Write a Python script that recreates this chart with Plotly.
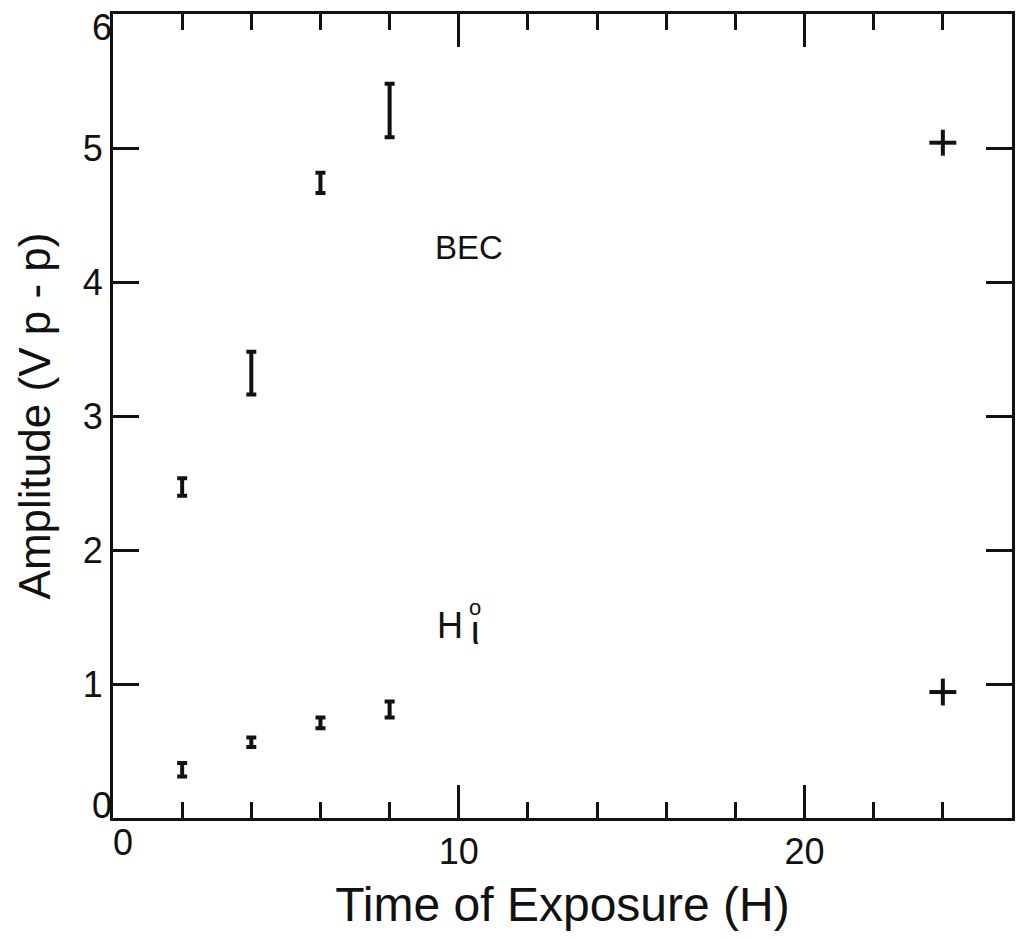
import plotly.graph_objects as go

# ---- data ----
exposure_h = [2, 4, 6, 8]                 # time of exposure (H)
bec_amp = [2.47, 3.32, 4.74, 5.28]        # BEC amplitude (V p-p)
bec_err = [0.065, 0.16, 0.075, 0.20]
hi_amp = [0.36, 0.565, 0.71, 0.81]        # Hi° amplitude (V p-p)
hi_err = [0.05, 0.035, 0.04, 0.06]

cross_time = [24, 24]                     # long exposure points (+ markers)
cross_amp = [5.04, 0.94]
cross_xerr = [0.39, 0.39]
cross_yerr = [0.097, 0.10]

x_major = [0, 10, 20]
x_major_text = ["", "10", "20"]
x_corner_label = [0]
x_minor = [2, 4, 6, 8, 12, 14, 16, 18, 22, 24]
y_ticks = [0, 1, 2, 3, 4, 5, 6]
y_ticks_text = ["", "1", "2", "3", "4", "5", ""]
y_top_label = [6]
y_bottom_label = [0]
x_range = [0, 26]
y_range = [0, 6.0005]

FONT = "Liberation Sans, Arial, sans-serif"
INK = "#111111"

fig = go.Figure()

invisible = dict(size=1, color="rgba(0,0,0,0)")

fig.add_trace(go.Scatter(
    x=exposure_h, y=bec_amp, mode="markers", marker=invisible,
    error_y=dict(type="data", array=bec_err, visible=True,
                 color=INK, thickness=4, width=5),
    showlegend=False, name="BEC", hoverinfo="skip"))

fig.add_trace(go.Scatter(
    x=exposure_h, y=hi_amp, mode="markers", marker=invisible,
    error_y=dict(type="data", array=hi_err, visible=True,
                 color=INK, thickness=4, width=5),
    showlegend=False, name="Hi", hoverinfo="skip"))

fig.add_trace(go.Scatter(
    x=cross_time, y=cross_amp, mode="markers", marker=invisible,
    error_y=dict(type="data", array=cross_yerr, visible=True,
                 color=INK, thickness=4, width=0),
    error_x=dict(type="data", array=cross_xerr, visible=True,
                 color=INK, thickness=4, width=0),
    showlegend=False, name="24 h", hoverinfo="skip"))

# invisible traces so the helper label axes are drawn
for xa, ya in (("x2", "y"), ("x", "y2"), ("x", "y3")):
    fig.add_trace(go.Scatter(
        x=cross_time[:1], y=cross_amp[:1], xaxis=xa, yaxis=ya,
        mode="markers", marker=invisible, showlegend=False,
        hoverinfo="skip"))

fig.add_annotation(x=10.3, y=4.26, text="BEC", showarrow=False,
                   font=dict(family=FONT, size=33, color=INK))
fig.add_annotation(x=9.75, y=1.44, text="H", showarrow=False,
                   font=dict(family=FONT, size=36, color=INK))
fig.add_annotation(x=10.47, y=1.45,
                   text="o<br><span style='font-size:40px'>ι</span>",
                   showarrow=False, align="center",
                   font=dict(family=FONT, size=22, color=INK))

axis_common = dict(
    showline=True, linewidth=3, linecolor=INK,
    tickcolor=INK, tickwidth=2.5,
    showgrid=False, zeroline=False,
    tickfont=dict(family=FONT, size=36, color=INK),
)
label_axis = dict(
    showline=False, showgrid=False, zeroline=False, ticks="",
    ticklabeloverflow="allow",
    tickfont=dict(family=FONT, size=36, color=INK),
)

fig.update_layout(
    xaxis=dict(
        **axis_common, ticks="inside", range=x_range, tickvals=x_major,
        ticktext=x_major_text, ticklen=33, mirror="ticks",
        minor=dict(tickvals=x_minor, ticks="inside", ticklen=16,
                   tickwidth=2.5, tickcolor=INK, showgrid=False),
        title=dict(text="Time of Exposure (H)", standoff=26,
                   font=dict(family=FONT, size=48, color=INK)),
    ),
    xaxis2=dict(
        **label_axis, range=x_range, tickvals=x_corner_label,
        overlaying="x", side="bottom", anchor="y", ticklabelshift=10,
    ),
    yaxis=dict(
        **axis_common, ticks="inside", range=y_range, tickvals=y_ticks,
        ticktext=y_ticks_text, ticklen=26, mirror="ticks",
        title=dict(text="Amplitude (V p - p)", standoff=19,
                   font=dict(family=FONT, size=44, color=INK)),
    ),
    yaxis2=dict(
        **label_axis, range=y_range, tickvals=y_top_label,
        overlaying="y", side="left", anchor="x", ticklabelshift=13,
    ),
    yaxis3=dict(
        **label_axis, range=y_range, tickvals=y_bottom_label,
        overlaying="y", side="left", anchor="x", ticklabelshift=-13,
    ),
    width=1009, height=923,
    margin=dict(l=105, r=5, t=6, b=113, autoexpand=False),
    paper_bgcolor="white", plot_bgcolor="white",
    font=dict(family=FONT, color=INK),
)

fig.write_html("out.html")
